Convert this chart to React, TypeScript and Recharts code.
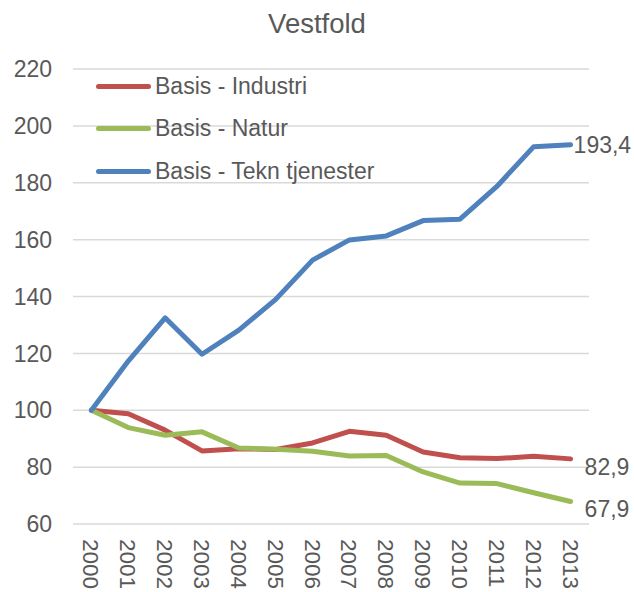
import React from 'react';
import { LineChart, Line, XAxis, YAxis, CartesianGrid, LabelList } from 'recharts';

const years = ['2000', '2001', '2002', '2003', '2004', '2005', '2006', '2007', '2008', '2009', '2010', '2011', '2012', '2013'];
const industri = [100, 98.8, 93, 85.7, 86.5, 86.2, 88.5, 92.6, 91.2, 85.3, 83.3, 83, 83.8, 82.9];
const natur = [100, 93.9, 91.2, 92.4, 86.7, 86.3, 85.6, 83.9, 84.1, 78.3, 74.4, 74.2, 71, 67.9];
const tekn = [100, 117.3, 132.5, 119.7, 128.2, 139, 152.8, 159.9, 161.3, 166.7, 167.2, 178.7, 192.7, 193.4];
const yTicks = [60, 80, 100, 120, 140, 160, 180, 200, 220];

const data = years.map((year, i) => ({
  year,
  industri: industri[i],
  natur: natur[i],
  tekn: tekn[i],
}));

const FONT = 'Arial, "Liberation Sans", sans-serif';
const TEXT = '#595959';

const series = [
  { key: 'industri', name: 'Basis - Industri', color: '#C0504D', dx: 14, dy: 8 },
  { key: 'natur', name: 'Basis - Natur', color: '#9BBB59', dx: 14, dy: 7 },
  { key: 'tekn', name: 'Basis - Tekn tjenester', color: '#4F81BD', dx: 3, dy: 0 },
];

// year labels run top-to-bottom like the Excel original
const YearTick = ({ x, y, payload }: any) => (
  <text
    x={0}
    y={0}
    transform={`translate(${x - 8},${y + 7}) rotate(90)`}
    fill={TEXT}
    fontSize={22.5}
    fontFamily={FONT}
    textAnchor="start"
  >
    {payload.value}
  </text>
);

const makeEndLabel = (dx: number, dy: number) => (props: any) => {
  const { x, y, value, index } = props;
  if (index !== years.length - 1) return null;
  return (
    <text x={x + dx} y={y + dy} dy="0.35em" fill={TEXT} fontSize={23} fontFamily={FONT} textAnchor="start">
      {String(value).replace('.', ',')}
    </text>
  );
};

// legend drawn as an overlay so it doesn't eat plot space
const LegendBox = () => (
  <div style={{ position: 'absolute', left: 96, top: 65, fontFamily: FONT }}>
    {series.map((s) => (
      <div key={s.key} style={{ display: 'flex', alignItems: 'center', height: 42.5 }}>
        <div style={{ width: 55, height: 5, background: s.color, borderRadius: 3, marginRight: 4 }} />
        <span style={{ fontSize: 23, color: TEXT, whiteSpace: 'nowrap' }}>{s.name}</span>
      </div>
    ))}
  </div>
);

export default function App() {
  return (
    <div style={{ position: 'absolute', left: 0, top: 0, width: 634, height: 592, background: '#fff' }}>
      <div
        style={{
          position: 'absolute',
          top: 8,
          width: 634,
          textAlign: 'center',
          fontFamily: FONT,
          fontSize: 27.5,
          color: TEXT,
        }}
      >
        Vestfold
      </div>
      <LineChart width={634} height={592} data={data} margin={{ top: 69, right: 45, bottom: 38, left: 0 }}>
        <CartesianGrid vertical={false} stroke="#D9D9D9" strokeWidth={1.5} />
        <XAxis
          dataKey="year"
          height={30}
          axisLine={false}
          tickLine={false}
          interval={0}
          padding={{ left: 18.4, right: 18.4 }}
          tick={<YearTick />}
        />
        <YAxis
          width={73}
          domain={[60, 220]}
          ticks={yTicks}
          axisLine={false}
          tickLine={false}
          tickMargin={15}
          tick={{ fill: TEXT, fontSize: 23, fontFamily: FONT }}
        />
        {series.map((s) => (
          <Line
            key={s.key}
            type="linear"
            dataKey={s.key}
            name={s.name}
            stroke={s.color}
            strokeWidth={5}
            dot={false}
            strokeLinejoin="round"
            strokeLinecap="round"
            isAnimationActive={false}
          >
            <LabelList dataKey={s.key} content={makeEndLabel(s.dx, s.dy)} />
          </Line>
        ))}
      </LineChart>
      <LegendBox />
    </div>
  );
}
